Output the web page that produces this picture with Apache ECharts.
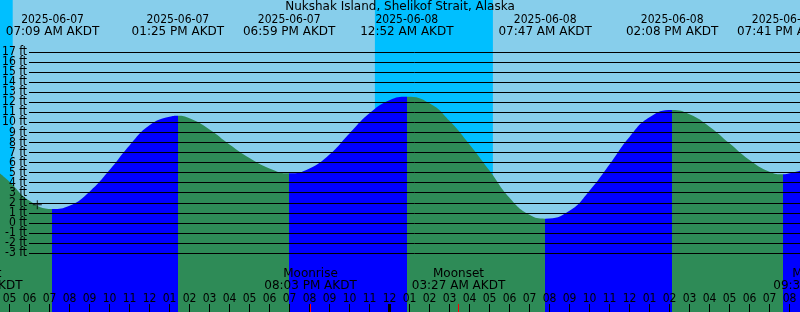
<!DOCTYPE html>
<html><head><meta charset="utf-8">
<script src="https://cdn.jsdelivr.net/npm/echarts@6/dist/echarts.min.js"></script>
<style>html,body{margin:0;padding:0;background:#87CEEB;}#c{width:800px;height:312px;}</style>
</head><body><div id="c"></div>
<script>
// ---- data (hours since 2025-06-07 00:00 AKDT) ----
const titleText = 'Nukshak Island, Shelikof Strait, Alaska';
const tideHours = [4.5,5,6,7.15,8,9,10,11,12,13,13.417,14,15,16,17,18,18.983,20,21,22,23,24,24.867,26,27,28,29,30,31,31.783,33,34,35,36,37,38.133,39,40,41,42,43,43.683,44,44.55];
const tideFeet  = [4.95,4.1,2.2,1.38,1.7,3.1,5.25,7.7,9.7,10.56,10.66,10.4,9.3,7.8,6.45,5.42,4.93,5.42,6.8,8.9,10.9,12.2,12.55,11.9,10.15,7.8,5.2,2.5,0.8,0.42,1.2,3.2,5.8,8.55,10.5,11.23,10.8,9.57,7.91,6.25,5.09,4.83,4.93,5.2];
const eventHours = [7.15, 13.417, 18.983, 24.867, 31.783, 38.133, 43.683];
const eventTypes = ['low','high','low','high','low','high','low'];
const eventDates = ['2025-06-07','2025-06-07','2025-06-07','2025-06-08','2025-06-08','2025-06-08','2025-06-08'];
const eventTimes = ['07:09 AM AKDT','01:25 PM AKDT','06:59 PM AKDT','12:52 AM AKDT','07:47 AM AKDT','02:08 PM AKDT','07:41 PM AKDT'];
const moonHours = [3.317, 20.05, 27.45, 45.5];
const moonNames = ['Moonset','Moonrise','Moonset','Moonrise'];
const moonTimes = ['03:19 AM AKDT','08:03 PM AKDT','03:27 AM AKDT','09:30 PM AKDT'];
const nightStarts = [-0.75, 23.27, 47.3];
const nightEnds   = [5.16, 29.17, 53.2];
const dayBoundaries = [24];
const nowPoint = [6.39, 1.81];
const feetTicks = [-3,-2,-1,0,1,2,3,4,5,6,7,8,9,10,11,12,13,14,15,16,17];
const feetMin = feetTicks[0], feetMax = feetTicks[feetTicks.length - 1];

// ---- styling ----
const FONT = '"DejaVu Sans"';
const NUMFONT = '"DejaVu Sans Condensed", "DejaVu Sans"';
const BLUE = '#0000FF', GREEN = '#2E8B57', NIGHT = '#00BFFF', SKY = '#87CEEB';
const pxPerFt = 201 / (feetMax - feetMin);
const yMin = feetMin - (312 - 253) / pxPerFt;
const yMax = feetMax + 52 / pxPerFt;

const pieces = [];
let prev = -100;
eventHours.forEach((h, i) => {
  pieces.push({ gte: prev, lt: h, color: eventTypes[i] === 'low' ? GREEN : BLUE });
  prev = h;
});
pieces.push({ gte: prev, lt: 100, color: eventTypes[eventTypes.length - 1] === 'low' ? BLUE : GREEN });

function hourLabel(v) {
  const h = ((Math.round(v) % 12) + 12) % 12 || 12;
  return String(h).padStart(2, '0');
}
function txt(text, x, y, size, fam, align) {
  align = align || 'center';
  return { type: 'text', style: { text, x, y, textAlign: align, textVerticalAlign: 'middle', align: align, verticalAlign: 'middle', fill: '#000', font: size + 'px ' + fam } };
}

const chart = echarts.init(document.getElementById('c'), null, { renderer: 'canvas' });
chart.setOption({
  animation: false,
  backgroundColor: SKY,
  title: { text: titleText, left: 'center', top: 1, padding: 0, textStyle: { fontSize: 12, fontWeight: 'normal', color: '#000', fontFamily: FONT } },
  grid: [
    { left: -10.5, width: 820, top: 0, height: 312, outerBoundsMode: 'none', containLabel: false },
    { left: 29, right: 0, top: 52, height: 201, outerBoundsMode: 'none', containLabel: false }
  ],
  visualMap: { type: 'piecewise', show: false, dimension: 0, seriesIndex: 1, pieces },
  xAxis: [
    { type: 'value', gridIndex: 0, min: 4, max: 45, interval: 1, z: 10,
      axisLine: { show: false, onZero: false }, splitLine: { show: false },
      axisTick: { inside: true, length: 8, lineStyle: { color: '#000', width: 1 } },
      axisLabel: { inside: true, margin: 8, color: '#000', fontSize: 12, lineHeight: 10, fontFamily: NUMFONT, formatter: hourLabel, showMinLabel: true, showMaxLabel: true, hideOverlap: false } },
    { type: 'value', gridIndex: 1, min: 0, max: 1, show: false }
  ],
  yAxis: [
    { type: 'value', gridIndex: 0, min: yMin, max: yMax, show: false },
    { type: 'value', gridIndex: 1, min: feetMin, max: feetMax, interval: 1, z: 10,
      axisLine: { show: false, onZero: false }, axisTick: { show: false },
      axisLabel: { show: false },
      splitLine: { show: true, lineStyle: { color: '#000', width: 1 } } }
  ],
  series: [
    { type: 'custom', xAxisIndex: 0, yAxisIndex: 0, z: 1, silent: true,
      data: nightStarts.map((s, i) => [s, nightEnds[i]]),
      renderItem: (p, api) => {
        const a = api.coord([api.value(0), yMax]);
        const b = api.coord([api.value(1), yMin]);
        return { type: 'rect', shape: { x: a[0], y: a[1], width: b[0] - a[0], height: b[1] - a[1] }, style: { fill: NIGHT } };
      } },
    { type: 'line', xAxisIndex: 0, yAxisIndex: 0, z: 2, smooth: 0.5, showSymbol: false, silent: true,
      data: tideHours.map((h, i) => [h, tideFeet[i]]),
      lineStyle: { width: 0 },
      areaStyle: { opacity: 1, origin: 'start' } },
    { type: 'scatter', xAxisIndex: 0, yAxisIndex: 0, z: 12, silent: true,
      data: [nowPoint], symbolSize: 9,
      symbol: 'path://M4,0h1v4h4v1h-4v4h-1v-4h-4v-1h4z',
      itemStyle: { color: '#000' } },
    { type: 'custom', xAxisIndex: 1, yAxisIndex: 1, z: 12, silent: true, clip: false,
      data: feetTicks.map(v => [0, v]),
      renderItem: (p, api) => {
        const c = api.coord([0, api.value(1)]);
        return txt(feetTicks[p.dataIndex] + ' ft', c[0] - 2, c[1], 12, NUMFONT, 'right');
      } },
    { type: 'custom', xAxisIndex: 0, yAxisIndex: 0, z: 12, silent: true,
      data: eventHours.map(h => [h, 0]),
      renderItem: (p, api) => {
        const x = api.coord([api.value(0), 0])[0];
        const i = p.dataIndex;
        return { type: 'group', children: [txt(eventDates[i], x, 19.5, 12, NUMFONT), txt(eventTimes[i], x, 31.5, 12, FONT)] };
      } },
    { type: 'custom', xAxisIndex: 0, yAxisIndex: 0, z: 12, silent: true,
      data: moonHours.map(h => [h, 0]),
      renderItem: (p, api) => {
        const i = p.dataIndex;
        const b = api.coord([api.value(0), yMin]);
        return { type: 'group', children: [
          txt(moonNames[i], b[0], 273.5, 12, FONT), txt(moonTimes[i], b[0], 286, 12, FONT),
          { type: 'line', shape: { x1: b[0], y1: b[1], x2: b[0], y2: b[1] - 8 }, style: { stroke: '#FF0000', lineWidth: 1 } }
        ] };
      } },
    { type: 'custom', xAxisIndex: 0, yAxisIndex: 0, z: 12, silent: true,
      data: dayBoundaries.map(h => [h, 0]),
      renderItem: (p, api) => {
        const b = api.coord([api.value(0), yMin]);
        return { type: 'line', shape: { x1: b[0], y1: b[1], x2: b[0], y2: b[1] - 8 }, style: { stroke: '#000', lineWidth: 3 } };
      } }
  ]
});
</script></body></html>
